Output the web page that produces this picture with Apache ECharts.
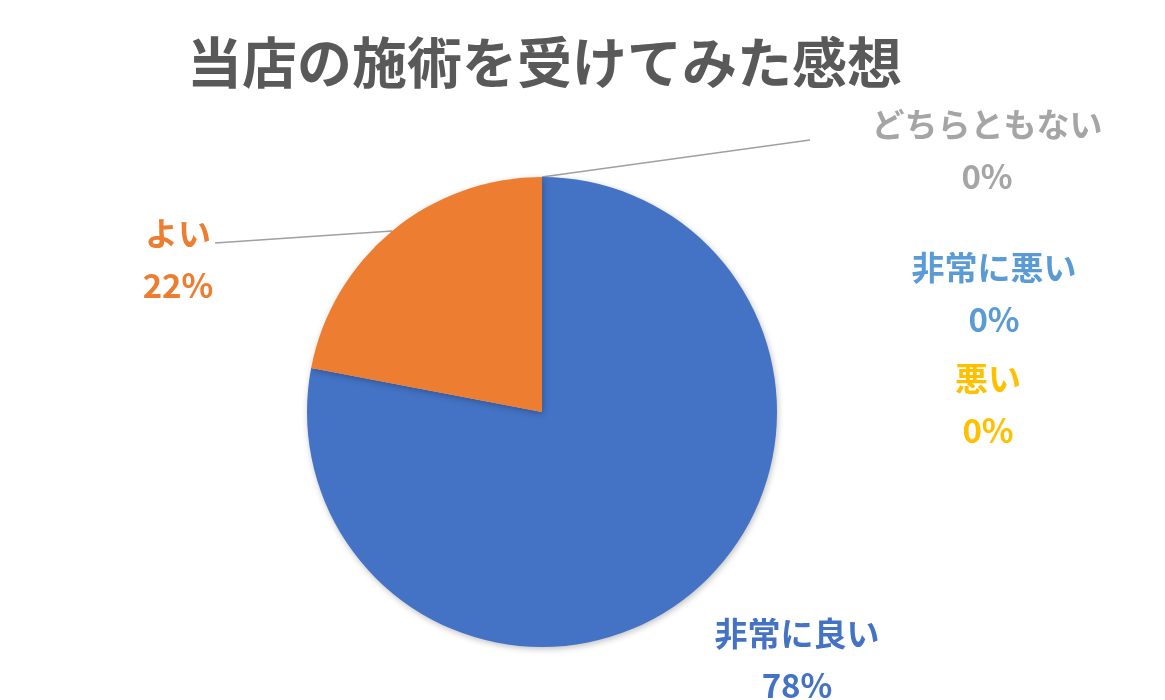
<!DOCTYPE html>
<html><head><meta charset="utf-8">
<script src="https://cdn.jsdelivr.net/npm/echarts@6/dist/echarts.min.js"></script>
<style>html,body{margin:0;padding:0;background:#fff}#c{width:1165px;height:700px}</style>
</head><body><div id="c"></div>
<script>
const titleText = '当店の施術を受けてみた感想';
const categories = ['非常に良い', 'よい', 'どちらともない', '悪い', '非常に悪い'];
const values = [78, 22, 0, 0, 0];
const colors = ['#4472C4', '#ED7D31', '#A5A5A5', '#FFC000', '#5B9BD5'];

// label placement (styling only)
const labelPlace = [
  {x: 797, y: 659, line: false},
  {x: 178, y: 259, line: true, end: [215, 243]},
  {x: 987, y: 150, line: true, end: [810, 140]},
  {x: 988, y: 404, line: false},
  {x: 994, y: 293, line: false}
];

const chart = echarts.init(document.getElementById('c'));
const font = '"Noto Sans CJK JP", "Noto Sans", sans-serif';
chart.setOption({
  animation: false,
  title: {
    text: titleText, left: 182, top: 30,
    textStyle: {fontFamily: font, fontSize: 55, fontWeight: 'bold', color: '#595959'}
  },
  series: [{
    type: 'pie',
    center: [542, 412],
    radius: 235,
    startAngle: 90,
    clockwise: true,
    avoidLabelOverlap: false,
    percentPrecision: 0,
    itemStyle: {shadowBlur: 6, shadowColor: 'rgba(0,0,0,0.25)', shadowOffsetX: 1, shadowOffsetY: 2},
    emphasis: {disabled: true},
    label: {
      show: true,
      formatter: '{b}\n{d}%',
      fontFamily: font, fontSize: 33, fontWeight: 'bold', lineHeight: 52,
      align: 'center'
    },
    labelLine: {show: true, length: 10, length2: 10, lineStyle: {color: '#A0A0A0', width: 1.6}},
    data: categories.map((n, i) => ({
      name: n, value: values[i],
      itemStyle: {color: colors[i]},
      label: {color: colors[i]},
      labelLine: {show: labelPlace[i].line}
    })),
    labelLayout: function (p) {
      const lp = labelPlace[p.dataIndex];
      const out = {x: lp.x, y: lp.y, align: 'center', verticalAlign: 'middle'};
      if (lp.line && p.labelLinePoints && p.labelLinePoints.length) {
        const s = p.labelLinePoints[0];
        out.labelLinePoints = [[s[0], s[1]], [(s[0] + lp.end[0]) / 2, (s[1] + lp.end[1]) / 2], lp.end];
      }
      return out;
    }
  }]
});
</script></body></html>
